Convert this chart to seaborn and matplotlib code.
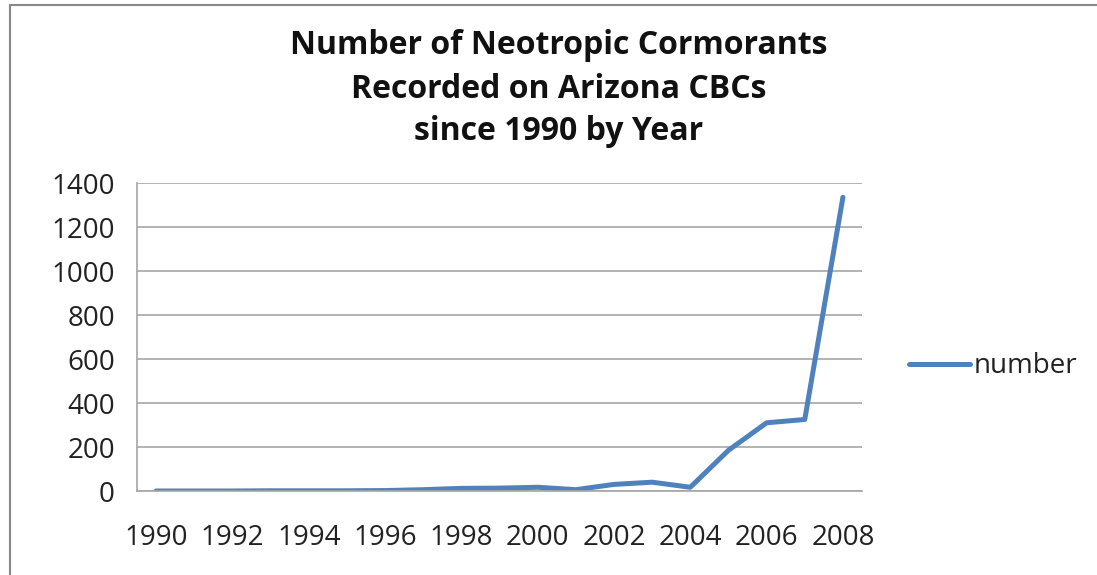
import matplotlib
matplotlib.use("Agg")
import matplotlib.pyplot as plt
import matplotlib.patches as patches
import seaborn as sns
import pandas as pd
import numpy as np

# === Data ===
years = list(range(1990, 2009))
counts = [0, 0, 0, 1, 1, 1, 2, 6, 12, 13, 17, 6, 30, 40, 17, 185, 310, 325, 1335]
tick_years = list(range(1990, 2009, 2))
y_ticks = list(range(0, 1401, 200))

df = pd.DataFrame({'year': years, 'number': counts})

# === Style ===
sns.set_theme(style='white')
plt.rcParams['font.family'] = ['Open Sans', 'DejaVu Sans']

W, H = 1097, 575
fig = plt.figure(figsize=(W / 100, H / 100), dpi=100)
ax = fig.add_axes([137 / W, 1 - 491 / H, (862 - 137) / W, (491 - 183) / H])

line_color = '#4F81BD'
grid_color = '#A6A6A6'

sns.lineplot(data=df, x='year', y='number', ax=ax, color=line_color,
             linewidth=3.6, label='number', solid_capstyle='round')

ax.set_xlim(1989.5, 2008.5)
ax.set_ylim(0, 1400)
ax.set_yticks(y_ticks)
ax.set_yticklabels([str(v) for v in y_ticks], fontsize=20, color='#222222')
ax.set_xticks(tick_years)
ax.set_xticklabels([str(v) for v in tick_years], fontsize=20, color='#222222')
ax.set_xticks(np.arange(1989.5, 2009, 1), minor=True)
ax.tick_params(axis='x', which='major', length=0, pad=24)
ax.tick_params(axis='x', which='minor', length=8, width=1.2, color=grid_color, direction='out')
ax.tick_params(axis='y', which='major', length=6, width=1.2, color=grid_color, direction='out', pad=10)
ax.set_xlabel('')
ax.set_ylabel('')

ax.grid(axis='y', color=grid_color, linewidth=1.2)
ax.set_axisbelow(True)
for s in ['top', 'right']:
    ax.spines[s].set_visible(False)
for s in ['left', 'bottom']:
    ax.spines[s].set_color(grid_color)
    ax.spines[s].set_linewidth(1.2)

leg = ax.legend(loc='center left', bbox_to_anchor=(1.03, 0.405), frameon=False,
                fontsize=20, handlelength=2.2, handletextpad=0.15)
for t in leg.get_texts():
    t.set_color('#222222')

fig.text(559 / W, 1 - 89 / H,
         'Number of Neotropic Cormorants\nRecorded on Arizona CBCs\nsince 1990 by Year',
         ha='center', va='center', fontsize=23, fontweight='bold',
         linespacing=1.4, color='#111111')

# outer chart border
fig.add_artist(patches.Rectangle((10 / W, -0.05), 1.1, 1 - 5 / H + 0.05,
                                 transform=fig.transFigure, fill=False,
                                 edgecolor='#888888', linewidth=1.5))

fig.savefig('out.png', dpi=100)
